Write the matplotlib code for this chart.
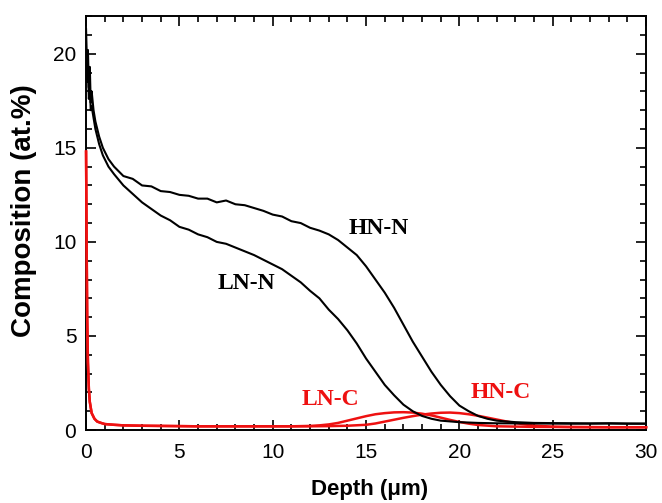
import matplotlib
matplotlib.use('Agg')
import matplotlib.pyplot as plt
from matplotlib.ticker import MultipleLocator

# Data (depth in um, composition in at.%)

hn_n_x = [0, 0.05, 0.1, 0.15, 0.2, 0.25, 0.3, 0.4, 0.5, 0.7, 0.9, 1.2, 1.5, 2.0, 2.5,
          3.0, 3.5, 4.0, 4.5, 5.0, 5.5, 6.0, 6.5, 7.0, 7.5, 8.0, 8.5, 9.0, 9.5, 10.0,
          10.5, 11.0, 11.5, 12.0, 12.5, 13.0, 13.5, 14.0, 14.5, 15.0, 15.5, 16.0, 16.5,
          17.0, 17.5, 18.0, 18.5, 19.0, 19.5, 20.0, 20.5, 21.0, 21.5, 22.0, 23.0, 24.0,
          25.0, 26.0, 27.0, 28.0, 29.0, 30.0]
hn_n_y = [21.3, 19.5, 20.2, 18.2, 19.3, 17.4, 18.0, 17.0, 16.4, 15.6, 15.0, 14.4, 14.0, 13.5, 13.35,
          13.0, 12.95, 12.7, 12.65, 12.5, 12.45, 12.3, 12.3, 12.1, 12.2, 12.0, 11.95, 11.8, 11.65, 11.45,
          11.35, 11.1, 11.0, 10.75, 10.6, 10.4, 10.1, 9.7, 9.3, 8.7, 8.0, 7.3, 6.5,
          5.6, 4.7, 3.9, 3.1, 2.4, 1.8, 1.3, 1.0, 0.75, 0.6, 0.5, 0.42, 0.38,
          0.37, 0.36, 0.35, 0.36, 0.34, 0.34]

ln_n_x = [0, 0.05, 0.1, 0.15, 0.2, 0.25, 0.3, 0.4, 0.5, 0.7, 0.9, 1.2, 1.5, 2.0, 2.5,
          3.0, 3.5, 4.0, 4.5, 5.0, 5.5, 6.0, 6.5, 7.0, 7.5, 8.0, 8.5, 9.0, 9.5, 10.0,
          10.5, 11.0, 11.5, 12.0, 12.5, 13.0, 13.5, 14.0, 14.5, 15.0, 15.5, 16.0, 16.5,
          17.0, 17.5, 18.0, 18.5, 19.0, 20.0, 21.0, 22.0, 24.0, 26.0, 28.0, 30.0]
ln_n_y = [19.8, 18.5, 19.4, 17.6, 18.3, 17.0, 17.2, 16.6, 16.0, 15.2, 14.6, 14.0, 13.6, 13.0, 12.55,
          12.1, 11.75, 11.4, 11.15, 10.8, 10.65, 10.4, 10.25, 10.0, 9.9, 9.7, 9.5, 9.3, 9.05, 8.8,
          8.55, 8.2, 7.85, 7.4, 7.0, 6.4, 5.9, 5.3, 4.6, 3.8, 3.1, 2.4, 1.85,
          1.35, 1.0, 0.75, 0.6, 0.5, 0.42, 0.38, 0.36, 0.35, 0.34, 0.35, 0.34]

ln_c_x = [0, 0.03, 0.06, 0.1, 0.15, 0.2, 0.3, 0.45, 0.6, 0.8, 1.0, 1.5, 2, 3, 4, 6, 8, 10,
          11, 12, 12.5, 13, 13.5, 14, 14.5, 15, 15.5, 16, 16.5, 17, 17.5, 18, 18.5, 19,
          19.5, 20, 20.5, 21, 22, 24, 26, 28, 30]
ln_c_y = [14.8, 10.0, 6.0, 3.6, 2.2, 1.5, 0.9, 0.6, 0.45, 0.38, 0.32, 0.28, 0.25, 0.23, 0.22, 0.2, 0.2, 0.2,
          0.2, 0.22, 0.25, 0.3, 0.38, 0.5, 0.62, 0.74, 0.84, 0.9, 0.94, 0.95, 0.93, 0.87, 0.78, 0.66,
          0.54, 0.43, 0.34, 0.27, 0.2, 0.17, 0.16, 0.15, 0.15]

hn_c_x = [0, 0.03, 0.06, 0.1, 0.15, 0.2, 0.3, 0.45, 0.6, 0.8, 1.0, 1.5, 2, 3, 4, 6, 8, 10,
          12, 13, 14, 15, 15.5, 16, 16.5, 17, 17.5, 18, 18.5, 19, 19.5, 20, 20.5, 21,
          21.5, 22, 22.5, 23, 23.5, 24, 25, 26, 28, 30]
hn_c_y = [14.8, 10.0, 6.0, 3.6, 2.2, 1.5, 0.9, 0.6, 0.45, 0.38, 0.32, 0.28, 0.25, 0.23, 0.22, 0.2, 0.2, 0.2,
          0.2, 0.21, 0.23, 0.28, 0.35, 0.45, 0.55, 0.65, 0.74, 0.82, 0.88, 0.92, 0.93, 0.9, 0.84, 0.76,
          0.66, 0.56, 0.46, 0.37, 0.3, 0.24, 0.18, 0.16, 0.15, 0.15]

# Plot

fig = plt.figure(figsize=(6.62, 5.03), dpi=100)
ax = fig.add_axes([0.130, 0.145, 0.846, 0.823])

red = '#ee1111'
ax.plot(ln_c_x, ln_c_y, color=red, lw=1.8, zorder=3, clip_on=False)
ax.plot(hn_c_x, hn_c_y, color=red, lw=1.8, zorder=3, clip_on=False)
ax.plot(hn_n_x, hn_n_y, color='black', lw=1.5, zorder=4)
ax.plot(ln_n_x, ln_n_y, color='black', lw=1.5, zorder=4)

ax.set_xlim(0, 30)
ax.set_ylim(0, 22)
ax.xaxis.set_major_locator(MultipleLocator(5))
ax.xaxis.set_minor_locator(MultipleLocator(1))
ax.yaxis.set_major_locator(MultipleLocator(5))
ax.yaxis.set_minor_locator(MultipleLocator(1))
ax.tick_params(which='both', direction='in', top=True, right=True, width=1.2)
ax.tick_params(which='major', length=7)
ax.tick_params(which='minor', length=4)
ax.tick_params(axis='x', pad=9)
ax.tick_params(axis='y', pad=7)
for lab in ax.get_xticklabels() + ax.get_yticklabels():
    lab.set_fontfamily('Liberation Sans')
    lab.set_fontsize(15)
for s in ax.spines.values():
    s.set_linewidth(1.4)

ax.set_xlabel('Depth (\u03bcm)', fontsize=16, fontweight='bold', family='Liberation Sans')
ax.set_ylabel('Composition (at.%)', fontsize=20, fontweight='bold', family='Liberation Sans')
ax.xaxis.set_label_coords(0.507, -0.118)
ax.yaxis.set_label_coords(-0.088, 0.53)

lbl = dict(fontsize=17, fontweight='bold', family='Liberation Serif', ha='center', va='center')
ax.text(15.7, 10.7, 'HN-N', color='black', **lbl)
ax.text(8.6, 7.8, 'LN-N', color='black', **lbl)
ax.text(13.1, 1.6, 'LN-C', color=red, **lbl)
ax.text(22.2, 2.0, 'HN-C', color=red, **lbl)

plt.savefig('out.png', dpi=100)
